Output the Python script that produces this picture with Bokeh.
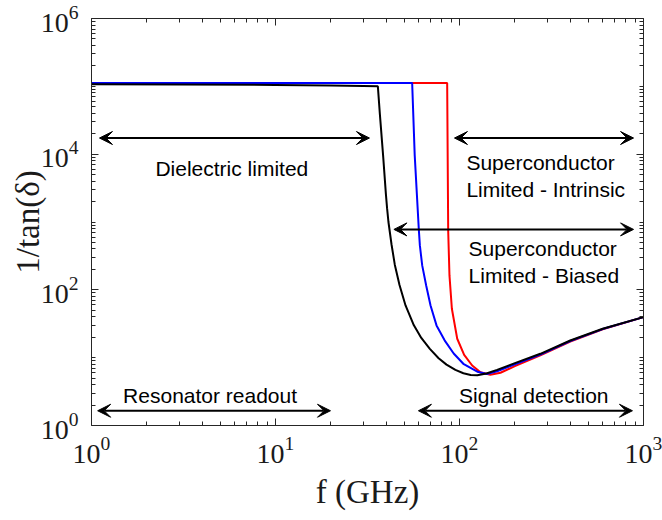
from bokeh.plotting import figure
from bokeh.models import (LogAxis, FixedTicker, Arrow, VeeHead, ColumnDataSource, Range1d,
                          CustomJSTickFormatter)
from bokeh.core.properties import value
from bokeh.embed import file_html
from bokeh.resources import INLINE

# ---- data (frequency in GHz, 1/tan(delta)) ----
black_f = [1, 3, 10, 20, 30, 36.0, 36.9, 38.5, 39.8, 40.4, 41.1, 42.7, 44.5, 47.2, 50.9,
           56.5, 62, 69, 77, 85, 95, 105, 115, 125, 140, 160, 200, 275, 400, 600, 1000]
black_q = [1.07e5, 1.06e5, 1.05e5, 1.03e5, 1.01e5, 1.0e5, 3.96e4, 9.06e3, 2.6e3, 1600, 1000,
           470, 235, 118, 58.9, 30, 19.5, 13.5, 9.8, 7.9, 6.6, 5.9, 5.55, 5.5, 5.85, 6.6, 8.3,
           11.4, 17.9, 26.7, 39.6]

blue_f = [1, 55.3, 57.1, 60.1, 60.9, 62.7, 65.9, 69.6, 75, 83, 93, 105.5, 125, 141,
          160, 200, 275, 400, 600, 1000]
blue_q = [1.12e5, 1.12e5, 9.6e3, 778, 452, 229, 116, 58.9, 29.9, 18, 11.5, 8.0, 6.2,
          5.75, 6.3, 8.0, 11.1, 17.6, 26.4, 39.6]

red_f = [1, 85.7, 86.8, 88.2, 90.9, 97.2, 106, 117.2, 130, 147, 167, 200, 275, 400, 600, 1000]
red_q = [1.12e5, 1.12e5, 751, 163, 52.6, 19, 11, 7.67, 6.11, 5.59, 5.99, 7.5, 10.8,
         17.3, 26.2, 39.6]

# double-headed arrows
arrow_x0 = [1.105, 93.9, 44.0, 1.08, 59.8]
arrow_x1 = [32.4, 883, 883, 19.9, 871]
arrow_y = [1.73e4, 1.73e4, 778, 1.65, 1.65]

# annotation texts
center_texts = ["Dielectric limited", "Resonator readout", "Signal detection"]
center_x = [5.79, 4.41, 253.5]
center_y = [6.2e3, 2.8, 2.8]
left_texts = ["Superconductor", "Limited - Intrinsic", "Superconductor", "Limited - Biased"]
left_x = [109, 109, 112, 112]
left_y = [7.6e3, 3.0e3, 408, 164]

# ticks
x_major = [1, 10, 100, 1000]
x_minor = [m * 10 ** k for k in range(3) for m in range(2, 10)]
y_major = [1, 1e2, 1e4, 1e6]
y_minor = [m * 10 ** k for k in range(6) for m in range(1, 10) if not (m == 1 and k % 2 == 0)]

AX = "#262626"

p = figure(width=662, height=520, x_axis_type="log", y_axis_type="log",
           x_range=Range1d(1, 1000), y_range=Range1d(1, 1e6),
           output_backend="svg", toolbar_location=None,
           min_border_left=91, min_border_right=19, min_border_top=18, min_border_bottom=95)
p.grid.visible = False
p.outline_line_color = None
p.background_fill_color = "white"


def style(ax, major, minor, labels=True):
    ax.ticker = FixedTicker(ticks=major, minor_ticks=minor)
    ax.major_tick_in = 7
    ax.major_tick_out = 0
    ax.minor_tick_in = 4
    ax.minor_tick_out = 0
    ax.axis_line_color = AX
    ax.major_tick_line_color = AX
    ax.minor_tick_line_color = AX
    ax.axis_line_width = 1
    if labels:
        ax.major_label_text_font = "Liberation Serif"
        ax.major_label_text_font_size = "28px"
        ax.major_label_text_color = "#1a1a1a"
    else:
        ax.formatter = CustomJSTickFormatter(code="return ''")
        ax.major_label_standoff = 0


style(p.xaxis[0], x_major, x_minor)
style(p.yaxis[0], y_major, y_minor)
p.xaxis[0].major_label_standoff = 11
p.yaxis[0].major_label_standoff = 13

p.xaxis[0].axis_label = "f (GHz)"
p.yaxis[0].axis_label = "1/tan(δ)"
for ax in (p.xaxis[0], p.yaxis[0]):
    ax.axis_label_text_font = "Liberation Serif"
    ax.axis_label_text_font_style = "normal"
    ax.axis_label_text_font_size = "33px"
    ax.axis_label_text_color = "#1a1a1a"
p.xaxis[0].axis_label_standoff = 8
p.yaxis[0].axis_label_standoff = -8

top = LogAxis()
style(top, x_major, x_minor, labels=False)
p.add_layout(top, "above")
right = LogAxis()
style(right, y_major, y_minor, labels=False)
p.add_layout(right, "right")

# curves
p.line(red_f, red_q, line_color="#ff0000", line_width=2)
p.line(blue_f, blue_q, line_color="#0000ff", line_width=2)
p.line(black_f, black_q, line_color="#000000", line_width=2)

# arrows
asrc = ColumnDataSource(dict(x0=arrow_x0, x1=arrow_x1, y=arrow_y))
p.add_layout(Arrow(x_start="x0", y_start="y", x_end="x1", y_end="y", source=asrc,
                   line_color="black", line_width=2,
                   start=VeeHead(size=13, fill_color="black", line_color="black", line_width=1),
                   end=VeeHead(size=13, fill_color="black", line_color="black", line_width=1)))

# texts
p.text(center_x, center_y, text=center_texts, text_font=value("Liberation Sans"),
       text_font_size="21px", text_align="center", text_baseline="middle", text_color="black")
p.text(left_x, left_y, text=left_texts, text_font=value("Liberation Sans"),
       text_font_size="21px", text_align="left", text_baseline="middle", text_color="black")

open("out.html", "w").write(file_html(p, INLINE))
